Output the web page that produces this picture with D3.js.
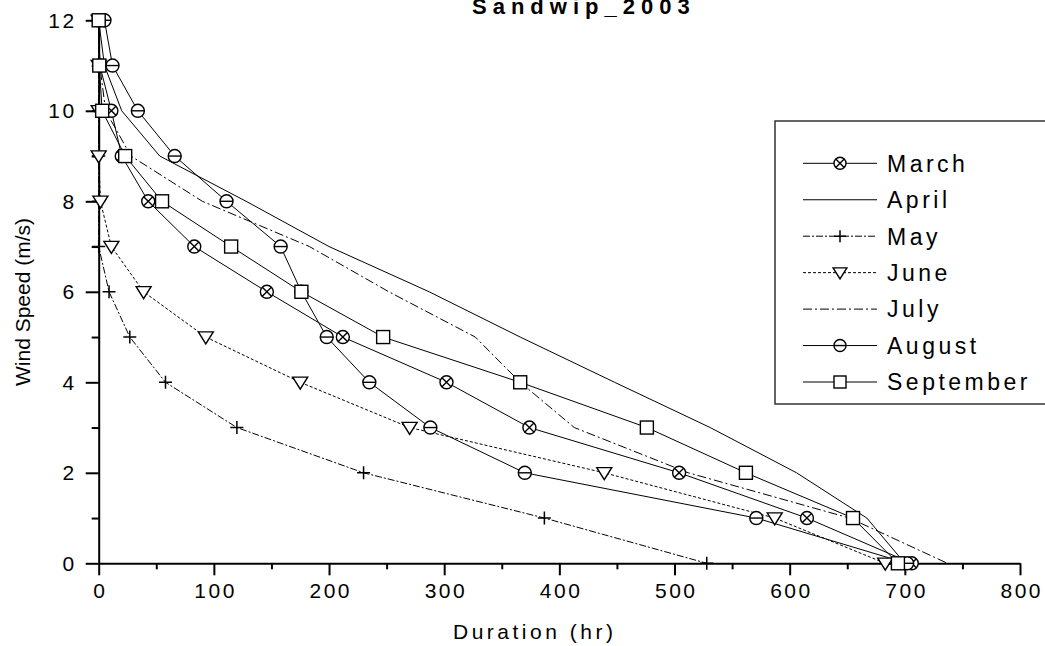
<!DOCTYPE html>
<html>
<head>
<meta charset="utf-8">
<script src="https://cdn.jsdelivr.net/npm/d3@7"></script>
<style>
  html, body { margin: 0; padding: 0; background: #fff; }
  svg { display: block; font-family: "Liberation Sans", Arial, sans-serif; }
</style>
</head>
<body>
<svg id="chart" width="1045" height="646"></svg>
<script>
// ---- data (duration in hours at or above each wind speed) ----
const speeds    = [12, 11, 10, 9, 8, 7, 6, 5, 4, 3, 2, 1, 0];
const march     = [0, 1, 11, 20, 43, 83, 146, 212, 302, 374, 504, 615, 706];
const april     = [0, 5, 20, 53, 128, 200, 287, 366, 448, 531, 606, 667, 700];
const may       = [0, 0, 0, 0, 0, 0, 9, 27, 58, 120, 230, 387, 528];
const june      = [0, 0, 0, 0, 1.5, 11, 39, 93, 175, 270, 439, 587, 683];
const july      = [0, 1, 6, 28, 90, 183, 252, 327, 366, 413, 512, 652, 737];
const august    = [5, 12, 34, 66, 111, 158, 176, 198, 235, 288, 370, 571, 702];
const september = [0, 0.5, 3, 23, 55, 115, 176, 247, 366, 476, 562, 655, 694];

const seriesNames = ["March", "April", "May", "June", "July", "August", "September"];
const xMajorTicks = [0, 100, 200, 300, 400, 500, 600, 700, 800];
const xMinorTicks = [50, 150, 250, 350, 450, 550, 650, 750];
const yMajorTicks = [0, 2, 4, 6, 8, 10, 12];
const yMinorTicks = [1, 3, 5, 7, 9, 11];
const titleText = "Sandwip_2003";
const xLabel = "Duration (hr)";
const yLabel = "Wind Speed (m/s)";

const seriesValues = [march, april, may, june, july, august, september];
const styles = {
  March:     { marker: "crosscircle", dash: null },
  April:     { marker: null,          dash: null },
  May:       { marker: "plus",        dash: "7,2,2,2" },
  June:      { marker: "tridown",     dash: "3,2" },
  July:      { marker: null,          dash: "9,3,2,3" },
  August:    { marker: "circleh",     dash: null },
  September: { marker: "square",      dash: null }
};
const series = seriesNames.map((n, i) => ({
  name: n,
  points: speeds.map((s, j) => ({ s: s, v: seriesValues[i][j] })),
  ...styles[n]
}));

// ---- scales ----
const svg = d3.select("#chart");
const x = d3.scaleLinear().domain([0, 800]).range([98.7, 1020]);
const y = d3.scaleLinear().domain([0, 12]).range([563.3, 20.3]);

// ---- axes ----
const tickFont = 21, tickSp = 2.5;
const gx = svg.append("g").attr("transform", `translate(0,${y(0)})`);
gx.call(d3.axisBottom(x).tickValues(xMajorTicks).tickSize(12).tickSizeOuter(0).tickPadding(8));
gx.append("g").call(d3.axisBottom(x).tickValues(xMinorTicks).tickSize(6).tickSizeOuter(0).tickFormat(""))
  .select(".domain").remove();
gx.select(".domain").attr("stroke-width", 2);
gx.selectAll(".tick line").attr("stroke-width", 2);
gx.selectAll(".tick text")
  .attr("font-size", tickFont).attr("letter-spacing", tickSp)
  .attr("dx", tickSp / 2).attr("fill", "#000")
  .attr("font-family", "Liberation Sans, Arial, sans-serif");

const gy = svg.append("g").attr("transform", `translate(${x(0)},0)`);
gy.call(d3.axisLeft(y).tickValues(yMajorTicks).tickSize(13).tickSizeOuter(0).tickPadding(9));
gy.append("g").call(d3.axisLeft(y).tickValues(yMinorTicks).tickSize(7).tickSizeOuter(0).tickFormat(""))
  .select(".domain").remove();
gy.select(".domain").attr("stroke-width", 2);
gy.selectAll(".tick line").attr("stroke-width", 2);
gy.selectAll(".tick text")
  .attr("font-size", tickFont).attr("letter-spacing", tickSp)
  .attr("fill", "#000")
  .attr("font-family", "Liberation Sans, Arial, sans-serif");

// ---- lines ----
const line = d3.line().x(d => x(d.v)).y(d => y(d.s));
const gl = svg.append("g");
series.forEach(sr => {
  gl.append("path")
    .datum(sr.points)
    .attr("d", line)
    .attr("fill", "none")
    .attr("stroke", "#000")
    .attr("stroke-width", 1)
    .attr("stroke-dasharray", sr.dash);
});

// ---- markers ----
function drawMarker(g, type, cx, cy, r) {
  const m = g.append("g").attr("transform", `translate(${cx},${cy})`)
    .attr("stroke", "#000").attr("stroke-width", 1.4).attr("fill", "#fff");
  const k = r * 0.7;
  if (type === "crosscircle") {
    m.append("circle").attr("r", r);
    m.append("path").attr("d", `M${-k},${-k}L${k},${k}M${-k},${k}L${k},${-k}`);
  } else if (type === "circleh") {
    m.append("circle").attr("r", r);
    m.append("path").attr("d", `M${-r},0L${r},0`);
  } else if (type === "square") {
    m.append("rect").attr("x", -r).attr("y", -r).attr("width", 2 * r).attr("height", 2 * r);
  } else if (type === "tridown") {
    m.append("path").attr("d", `M${-r * 1.15},${-r * 0.8}L${r * 1.15},${-r * 0.8}L0,${r * 1.05}Z`);
  } else if (type === "plus") {
    m.append("path").attr("d", `M${-r},0L${r},0M0,${-r}L0,${r}`).attr("stroke-width", 1.5);
  }
}
const gm = svg.append("g");
series.forEach(sr => {
  if (!sr.marker) return;
  sr.points.forEach(p => drawMarker(gm, sr.marker, x(p.v), y(p.s), 6.5));
});

// ---- title & axis labels ----
svg.append("text").text(titleText)
  .attr("x", 472).attr("y", 14)
  .attr("font-size", 22).attr("font-weight", "bold").attr("letter-spacing", 6);

svg.append("text").text(xLabel)
  .attr("x", 453).attr("y", 639)
  .attr("font-size", 21).attr("letter-spacing", 3.5);

svg.append("text").text(yLabel)
  .attr("transform", "translate(30,302) rotate(-90)")
  .attr("text-anchor", "middle")
  .attr("font-size", 21);

// ---- legend ----
const lg = svg.append("g");
lg.append("rect").attr("x", 775).attr("y", 121).attr("width", 300).attr("height", 283)
  .attr("fill", "#fff").attr("stroke", "#333").attr("stroke-width", 1.5);
series.forEach((sr, i) => {
  const cy = 163.3 + i * 36.45;
  lg.append("line").attr("x1", 803).attr("x2", 877).attr("y1", cy).attr("y2", cy)
    .attr("stroke", "#000").attr("stroke-width", 1).attr("stroke-dasharray", sr.dash);
  if (sr.marker) drawMarker(lg, sr.marker, 840, cy, 6);
  lg.append("text").text(sr.name)
    .attr("x", 887).attr("y", cy + 8.3)
    .attr("font-size", 23).attr("letter-spacing", 3.5);
});
</script>
</body>
</html>
